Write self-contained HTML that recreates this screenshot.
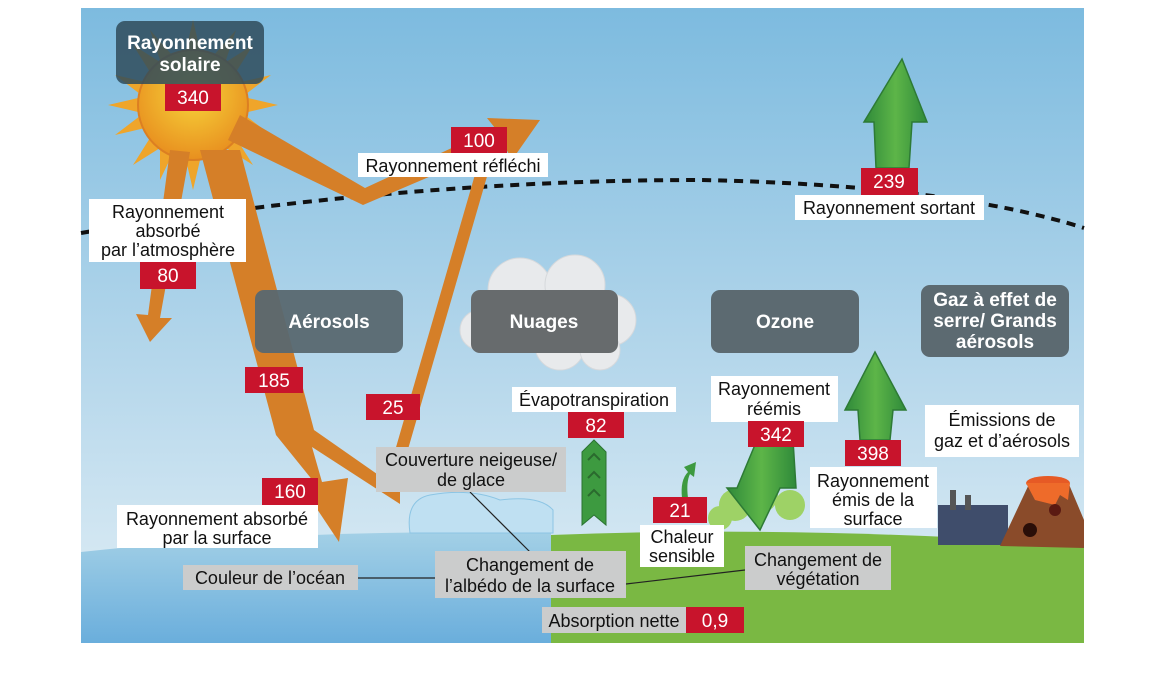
<!DOCTYPE html>
<html><head><meta charset="utf-8"><style>
html,body{margin:0;padding:0;background:#fff;}
svg{display:block;}
text{font-family:"Liberation Sans",sans-serif;}
</style></head><body>
<svg width="1168" height="680" viewBox="0 0 1168 680" xmlns="http://www.w3.org/2000/svg">
<defs>
<linearGradient id="sky" x1="0" y1="0" x2="0" y2="1">
<stop offset="0" stop-color="#7dbbdf"/><stop offset="0.6" stop-color="#b9d9ec"/><stop offset="1" stop-color="#e2eff6"/>
</linearGradient>
<linearGradient id="sea" x1="0" y1="0" x2="0" y2="1">
<stop offset="0" stop-color="#a3d0e6"/><stop offset="1" stop-color="#6aaedc"/>
</linearGradient>
<radialGradient id="sun" cx="0.5" cy="0.4" r="0.6">
<stop offset="0" stop-color="#f7d43a"/><stop offset="1" stop-color="#e88f1f"/>
</radialGradient>
<linearGradient id="garr" x1="0" y1="0" x2="1" y2="0">
<stop offset="0" stop-color="#2f8a3a"/><stop offset="0.5" stop-color="#5db548"/><stop offset="1" stop-color="#2f8a3a"/>
</linearGradient>
</defs>
<rect x="81" y="8" width="1003" height="635" fill="url(#sky)"/>
<path d="M551 535 Q800 525 1084 545 L1084 643 L551 643 Z" fill="#7ab843"/>
<path d="M81 552 Q300 528 551 533 L551 643 L81 643 Z" fill="url(#sea)"/>
<path d="M81 233 Q400 180 700 180 Q950 185 1084 228" fill="none" stroke="#111" stroke-width="4" stroke-dasharray="9 7"/>
<g fill="#efa52a">
<polygon points="193,20 200,50 186,50"/><polygon points="193,190 200,160 186,160"/>
<polygon points="108,105 138,98 138,112"/><polygon points="278,105 248,98 248,112"/>
<polygon points="133,45 160,62 150,72"/><polygon points="253,45 236,72 226,62"/>
<polygon points="133,165 150,138 160,148"/><polygon points="253,165 226,148 236,138"/>
<polygon points="150,30 172,55 160,60"/><polygon points="236,30 226,60 214,55"/>
<polygon points="115,75 145,82 140,94"/><polygon points="271,75 246,94 241,82"/>
<polygon points="115,135 140,116 145,128"/><polygon points="271,135 241,128 246,116"/>
<polygon points="160,180 160,150 172,155"/><polygon points="226,180 214,155 226,150"/>
</g>
<circle cx="193" cy="105" r="55" fill="url(#sun)" stroke="#dc7f22" stroke-width="2"/>
<g fill="#d57f28">
<polygon points="240,115 365,188 495,128 487,118 540,120 512,160 504,145 363,205 228,140"/>
<polygon points="485,140 497,142 402,470 390,468"/>
<polygon points="170,150 190,152 160,318 172,318 150,342 136,314 148,315"/>
<polygon points="200,150 240,150 314,430 400,490 400,504 312,447 322,482 348,478 339,542 303,488 318,487 276,435"/>
</g>
<g fill="#e8eaec" stroke="#d6d9dc">
<circle cx="520" cy="290" r="32"/><circle cx="575" cy="285" r="30"/><circle cx="610" cy="320" r="26"/><circle cx="480" cy="330" r="20"/><circle cx="560" cy="345" r="25"/><circle cx="600" cy="350" r="20"/>
</g>
<rect x="116" y="21" width="148" height="63" rx="9" fill="#2f4b5a" opacity="0.85"/>
<text x="190" y="49" font-size="19" fill="#fff" text-anchor="middle" font-weight="bold">Rayonnement</text>
<text x="190" y="71" font-size="19" fill="#fff" text-anchor="middle" font-weight="bold">solaire</text>
<rect x="255" y="290" width="148" height="63" rx="9" fill="#586870" opacity="0.95"/>
<text x="329" y="328" font-size="19" fill="#fff" text-anchor="middle" font-weight="bold">Aérosols</text>
<rect x="471" y="290" width="147" height="63" rx="9" fill="#676b6d"/>
<text x="544" y="328" font-size="19" fill="#fff" text-anchor="middle" font-weight="bold">Nuages</text>
<rect x="711" y="290" width="148" height="63" rx="9" fill="#5c6a71"/>
<text x="785" y="328" font-size="19" fill="#fff" text-anchor="middle" font-weight="bold">Ozone</text>
<rect x="921" y="285" width="148" height="72" rx="9" fill="#5c6a71"/>
<text x="995" y="306" font-size="19" fill="#fff" text-anchor="middle" font-weight="bold">Gaz à effet de</text>
<text x="995" y="327" font-size="19" fill="#fff" text-anchor="middle" font-weight="bold">serre/ Grands</text>
<text x="995" y="348" font-size="19" fill="#fff" text-anchor="middle" font-weight="bold">aérosols</text>
<path d="M410 533 Q405 500 430 495 Q470 488 500 500 Q540 495 553 510 L553 533 Z" fill="#bfe0f2" stroke="#8cc5e4"/>
<g fill="#9ed266"><circle cx="735" cy="505" r="16"/><circle cx="760" cy="495" r="18"/><circle cx="790" cy="505" r="15"/><circle cx="720" cy="518" r="12"/></g>
<rect x="938" y="505" width="70" height="40" fill="#3f4d6b"/>
<rect x="950" y="490" width="6" height="20" fill="#555"/><rect x="965" y="495" width="6" height="15" fill="#555"/>
<path d="M1000 546 L1030 482 L1068 482 L1084 520 L1084 548 Z" fill="#8a4b2a"/>
<ellipse cx="1048" cy="483" rx="22" ry="7" fill="#e65a25"/>
<path d="M1026 483 L1070 483 L1068 500 L1060 495 L1055 505 L1035 500 Z" fill="#ee6b2a"/>
<circle cx="1055" cy="510" r="6" fill="#5a1a12"/><circle cx="1030" cy="530" r="7" fill="#2a0e08"/>
<polygon points="902,59 927,122 912,122 909,168 876,168 874,122 864,122" fill="url(#garr)" stroke="#2d7a35" stroke-width="1.5"/>
<polygon points="875,352 906,410 893,410 890,440 860,440 858,410 845,410" fill="url(#garr)" stroke="#2d7a35" stroke-width="1.5"/>
<polygon points="760,530 780,488 796,488 793,440 757,440 737,488 727,488" fill="url(#garr)" stroke="#2d7a35" stroke-width="1.5"/>
<g fill="#3d9a40" stroke="#2a7331">
<polygon points="594,440 606,452 606,525 594,515 582,525 582,452"/>
</g>
<path d="M588 460 L594 454 L600 460 M588 478 L594 472 L600 478 M588 496 L594 490 L600 496" stroke="#2a6a2e" stroke-width="2" fill="none"/>
<path d="M682 498 Q680 480 688 472 L684 467 L696 462 L694 477 L690 474 Q686 482 688 498 Z" fill="#3d9a40"/>
<line x1="358" y1="578" x2="436" y2="578" stroke="#222" stroke-width="1.2"/>
<line x1="626" y1="584" x2="745" y2="570" stroke="#222" stroke-width="1.2"/>
<line x1="470" y1="492" x2="530" y2="552" stroke="#222" stroke-width="1.2"/>
<g fill="#fff">
<rect x="358" y="153" width="190" height="24"/>
<rect x="89" y="199" width="157" height="63"/>
<rect x="795" y="195" width="189" height="25"/>
<rect x="117" y="505" width="201" height="43"/>
<rect x="512" y="387" width="164" height="25"/>
<rect x="711" y="376" width="127" height="46"/>
<rect x="810" y="467" width="127" height="61"/>
<rect x="925" y="405" width="154" height="52"/>
<rect x="640" y="525" width="84" height="42"/>
</g>
<g font-size="18" fill="#111" text-anchor="middle">
<text x="453" y="172">Rayonnement réfléchi</text>
<text x="168" y="218">Rayonnement</text><text x="168" y="237">absorbé</text><text x="168" y="256">par l’atmosphère</text>
<text x="889" y="214">Rayonnement sortant</text>
<text x="217" y="525">Rayonnement absorbé</text><text x="217" y="544">par la surface</text>
<text x="594" y="406">Évapotranspiration</text>
<text x="774" y="395">Rayonnement</text><text x="774" y="415">réémis</text>
<text x="873" y="487">Rayonnement</text><text x="873" y="506">émis de la</text><text x="873" y="525">surface</text>
<text x="1002" y="426">Émissions de</text><text x="1002" y="447">gaz et d’aérosols</text>
<text x="682" y="543">Chaleur</text><text x="682" y="562">sensible</text>
</g>
<g fill="#cbcccc">
<rect x="376" y="447" width="190" height="45"/>
<rect x="183" y="565" width="175" height="25"/>
<rect x="435" y="551" width="191" height="47"/>
<rect x="745" y="546" width="146" height="44"/>
<rect x="542" y="607" width="144" height="26"/>
</g>
<g font-size="18" fill="#111" text-anchor="middle">
<text x="471" y="466">Couverture neigeuse/</text><text x="471" y="486">de glace</text>
<text x="270" y="584">Couleur de l’océan</text>
<text x="530" y="571">Changement de</text><text x="530" y="592">l’albédo de la surface</text>
<text x="818" y="566">Changement de</text><text x="818" y="585">végétation</text>
<text x="614" y="627">Absorption nette</text>
</g>
<g fill="#c8142c">
<rect x="165" y="84" width="56" height="27"/>
<rect x="451" y="127" width="56" height="26"/>
<rect x="140" y="262" width="56" height="27"/>
<rect x="861" y="168" width="57" height="27"/>
<rect x="245" y="367" width="58" height="26"/>
<rect x="366" y="394" width="54" height="26"/>
<rect x="262" y="478" width="56" height="27"/>
<rect x="568" y="412" width="56" height="26"/>
<rect x="748" y="421" width="56" height="26"/>
<rect x="845" y="440" width="56" height="26"/>
<rect x="653" y="497" width="54" height="26"/>
<rect x="686" y="607" width="58" height="26"/>
</g>
<g font-size="19" fill="#fff" text-anchor="middle">
<text x="193" y="104">340</text>
<text x="479" y="147">100</text>
<text x="168" y="282">80</text>
<text x="889" y="188">239</text>
<text x="274" y="387">185</text>
<text x="393" y="414">25</text>
<text x="290" y="498">160</text>
<text x="596" y="432">82</text>
<text x="776" y="441">342</text>
<text x="873" y="460">398</text>
<text x="680" y="517">21</text>
<text x="715" y="627">0,9</text>
</g>
</svg>
</body></html>
